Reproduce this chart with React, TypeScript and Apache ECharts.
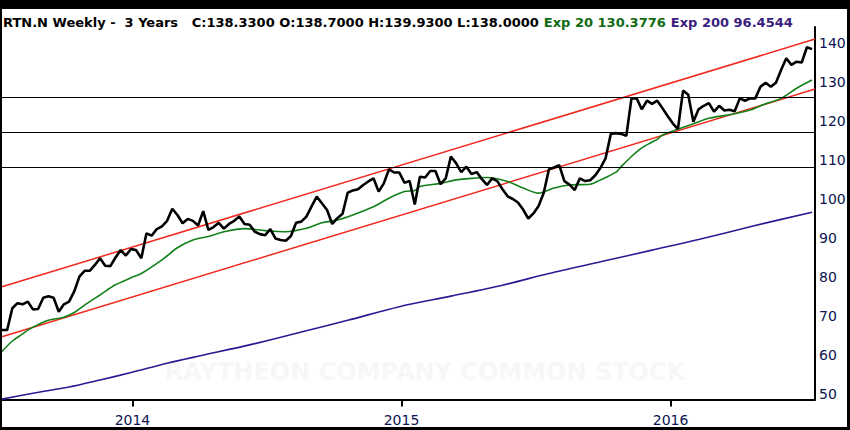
import React, { useEffect, useRef } from "react";
import * as echarts from "echarts";

// ---- data ----
const startDate = "2013-07-08"; // first weekly bar
const endDate = "2016-07-15"; // right end of the time axis
const price = [
  66.3, 66.3, 71.9, 73.2, 72.9, 73.6, 71.6, 71.7, 74.6, 75.0,
  74.6, 71.0, 72.9, 73.6, 76.2, 80.0, 81.5, 81.5, 83.0, 84.7,
  82.8, 82.7, 84.9, 86.8, 85.4, 87.1, 86.8, 84.7, 91.1, 90.5,
  92.2, 92.9, 94.3, 97.4, 95.8, 93.7, 94.8, 94.3, 93.1, 96.8,
  92.0, 92.7, 93.8, 92.3, 93.5, 94.3, 95.4, 93.5, 93.3, 91.5,
  90.9, 90.6, 92.2, 89.8, 89.4, 89.2, 90.4, 93.8, 94.1, 95.4,
  98.0, 100.5, 98.8, 97.1, 93.5, 95.0, 96.1, 101.5, 102.1, 102.4,
  103.5, 104.4, 105.2, 101.8, 103.9, 107.5, 106.7, 106.7, 104.1, 104.5,
  98.5, 105.6, 105.4, 107.1, 107.1, 103.7, 105.2, 110.8, 109.1, 106.8,
  108.2, 106.3, 106.8, 105.0, 103.5, 105.2, 104.5, 102.4, 100.6, 99.9,
  99.0, 97.2, 94.9, 96.2, 98.1, 101.5, 107.5, 108.0, 108.6, 104.5,
  103.6, 102.2, 105.2, 104.5, 104.7, 106.0, 107.9, 110.4, 116.6, 116.8,
  116.6, 116.1, 125.7, 125.7, 122.9, 125.1, 124.3, 125.1, 123.2, 121.2,
  119.3, 117.8, 127.7, 126.6, 119.7, 122.9, 123.8, 124.5, 122.3, 123.8,
  122.6, 122.8, 122.4, 125.7, 125.1, 125.7, 125.7, 128.7, 129.7, 128.7,
  129.7, 133.0, 136.0, 134.3, 135.1, 134.9, 138.8, 138.33,
];
const ema20Weeks = [
  0, 2, 4, 5, 7, 9, 12, 14, 16, 19, 22, 25, 27, 31, 34, 37, 40, 43, 47, 51,
  55, 59, 62, 65, 68, 72, 75, 78, 80, 81, 85, 88, 91, 94, 98, 101, 104, 107, 110, 114,
  116, 119, 120, 122, 124, 126, 127, 128, 131, 134, 137, 141, 145, 148, 151, 154, 157,
];
const ema20Values = [
  60.8, 63.5, 65.3, 66.3, 67.7, 68.8, 69.6, 70.8, 72.7, 75.3, 77.9, 79.7, 80.8, 84.3, 87.4, 89.4, 90.3, 91.5, 92.3, 91.8,
  91.5, 92.4, 93.8, 94.5, 95.8, 97.9, 100.1, 101.8, 102.1, 103.1, 103.9, 104.8, 105.2, 105.4, 104.4, 102.7, 101.4, 102.7, 103.5, 103.7,
  104.8, 106.8, 108.2, 110.8, 113.0, 114.5, 115.2, 116.3, 117.8, 119.2, 120.6, 121.5, 122.7, 124.3, 125.7, 128.3, 130.4,
];
const ema200Weeks = [0, 6, 13, 19, 25, 32, 38, 48, 58, 67, 77, 87, 97, 106, 116, 126, 135, 145, 157];
const ema200Values = [48.6, 50.1, 51.7, 53.5, 55.4, 57.8, 59.6, 62.5, 65.8, 68.8, 72.3, 75.0, 77.8, 80.8, 83.8, 86.8, 89.5, 92.8, 96.5];
const channelUpper = [77.4, 140.9];
const channelLower = [64.6, 128.1];
const levels = [125.9, 117.0, 108.0];
const yTicks = [50, 60, 70, 80, 90, 100, 110, 120, 130, 140];
const yearTicks = [2014, 2015, 2016];
const headerMain = "RTN.N Weekly -  3 Years   C:138.3300 O:138.7000 H:139.9300 L:138.0000";
const headerEma20 = "Exp 20 130.3776";
const headerEma200 = "Exp 200 96.4544";
const watermark = "RAYTHEON COMPANY COMMON STOCK";

const DAY = 86400000;

export default function App() {
  const ref = useRef<HTMLDivElement>(null);

  useEffect(() => {
    document.body.style.margin = "0";
    if (!ref.current) return;
    const chart = echarts.init(ref.current, null, { renderer: "svg" });
    const t0 = Date.parse(startDate + "T00:00:00");
    const tEnd = Date.parse(endDate + "T00:00:00");
    const weekTime = (i: number) => t0 + i * 7 * DAY;
    const labelFont = "DejaVu Sans, sans-serif";
    const headStyle = (color: string) => ({
      color,
      fontSize: 13,
      fontWeight: "bold",
      fontFamily: labelFont,
    });

    chart.setOption({
      animation: false,
      backgroundColor: "#ffffff",
      title: {
        left: 3,
        top: 13,
        padding: 0,
        text: `{a|${headerMain}} {g|${headerEma20}} {p|${headerEma200}}`,
        textStyle: {
          fontWeight: "bold",
          rich: {
            a: headStyle("#000000"),
            g: headStyle("#0e6a10"),
            p: headStyle("#3b1d80"),
          },
        },
      },
      grid: { left: 2, top: 27, width: 813, height: 372.5, containLabel: false },
      xAxis: {
        type: "time",
        min: t0,
        max: tEnd,
        splitNumber: 3,
        minInterval: 365 * DAY,
        axisLine: { show: true, lineStyle: { color: "#000", width: 2 } },
        axisTick: { show: true, length: 7, lineStyle: { color: "#000", width: 2 } },
        splitLine: { show: false },
        axisLabel: {
          margin: 13,
          color: "#0b1450",
          fontSize: 14,
          fontFamily: labelFont,
          showMinLabel: false,
          showMaxLabel: false,
          formatter: (v: number) => {
            const d = new Date(v);
            if (d.getMonth() === 0 && d.getDate() === 1 && yearTicks.includes(d.getFullYear())) {
              return String(d.getFullYear());
            }
            return "";
          },
        },
      },
      yAxis: {
        type: "value",
        position: "right",
        min: 48.5,
        max: 144.0,
        minInterval: 10,
        maxInterval: 10,
        axisLine: { show: true, lineStyle: { color: "#000", width: 2 } },
        axisTick: { show: false },
        splitLine: { show: false },
        axisLabel: {
          margin: 4,
          color: "#0b1450",
          fontSize: 14,
          fontFamily: labelFont,
          formatter: (v: number) => {
            const r = Math.round(v);
            return Math.abs(v - r) < 1e-6 && yTicks.includes(r) ? String(r) : "";
          },
        },
      },
      graphic: [
        {
          type: "text",
          x: 425,
          y: 372,
          z: 0,
          silent: true,
          style: {
            text: watermark,
            fill: "#f7f7f7",
            font: "bold 24px DejaVu Sans, sans-serif",
            align: "center",
            verticalAlign: "middle",
          },
        },
        { type: "rect", z: 100, shape: { x: 0, y: 0, width: 850, height: 9 }, style: { fill: "#000" } },
        { type: "rect", z: 100, shape: { x: 0, y: 0, width: 2, height: 430 }, style: { fill: "#000" } },
        { type: "rect", z: 100, shape: { x: 847, y: 0, width: 3, height: 430 }, style: { fill: "#000" } },
        { type: "rect", z: 100, shape: { x: 0, y: 427, width: 850, height: 3 }, style: { fill: "#000" } },
      ],
      series: [
        {
          type: "line",
          name: "levels",
          data: [],
          markLine: {
            silent: true,
            symbol: "none",
            label: { show: false },
            lineStyle: { color: "#000", width: 1, type: "solid" },
            data: levels.map((v) => ({ yAxis: v })),
          },
        },
        {
          type: "line",
          name: "channel upper",
          data: [[t0, channelUpper[0]], [tEnd, channelUpper[1]]],
          showSymbol: false,
          symbol: "none",
          lineStyle: { color: "#f0281e", width: 1.5 },
        },
        {
          type: "line",
          name: "channel lower",
          data: [[t0, channelLower[0]], [tEnd, channelLower[1]]],
          showSymbol: false,
          symbol: "none",
          lineStyle: { color: "#f0281e", width: 1.5 },
        },
        {
          type: "line",
          name: "Exp 200",
          data: ema200Weeks.map((w, i) => [weekTime(w), ema200Values[i]]),
          showSymbol: false,
          symbol: "none",
          smooth: 0.3,
          lineStyle: { color: "#2b1b93", width: 1.6 },
        },
        {
          type: "line",
          name: "Exp 20",
          data: ema20Weeks.map((w, i) => [weekTime(w), ema20Values[i]]),
          showSymbol: false,
          symbol: "none",
          smooth: 0.3,
          lineStyle: { color: "#13801a", width: 1.6 },
        },
        {
          type: "line",
          name: "RTN.N",
          data: price.map((v, i) => [weekTime(i), v]),
          showSymbol: false,
          symbol: "none",
          lineStyle: { color: "#000000", width: 2.6 },
        },
      ],
    });

    return () => chart.dispose();
  }, []);

  return <div ref={ref} style={{ width: 850, height: 430 }} />;
}
